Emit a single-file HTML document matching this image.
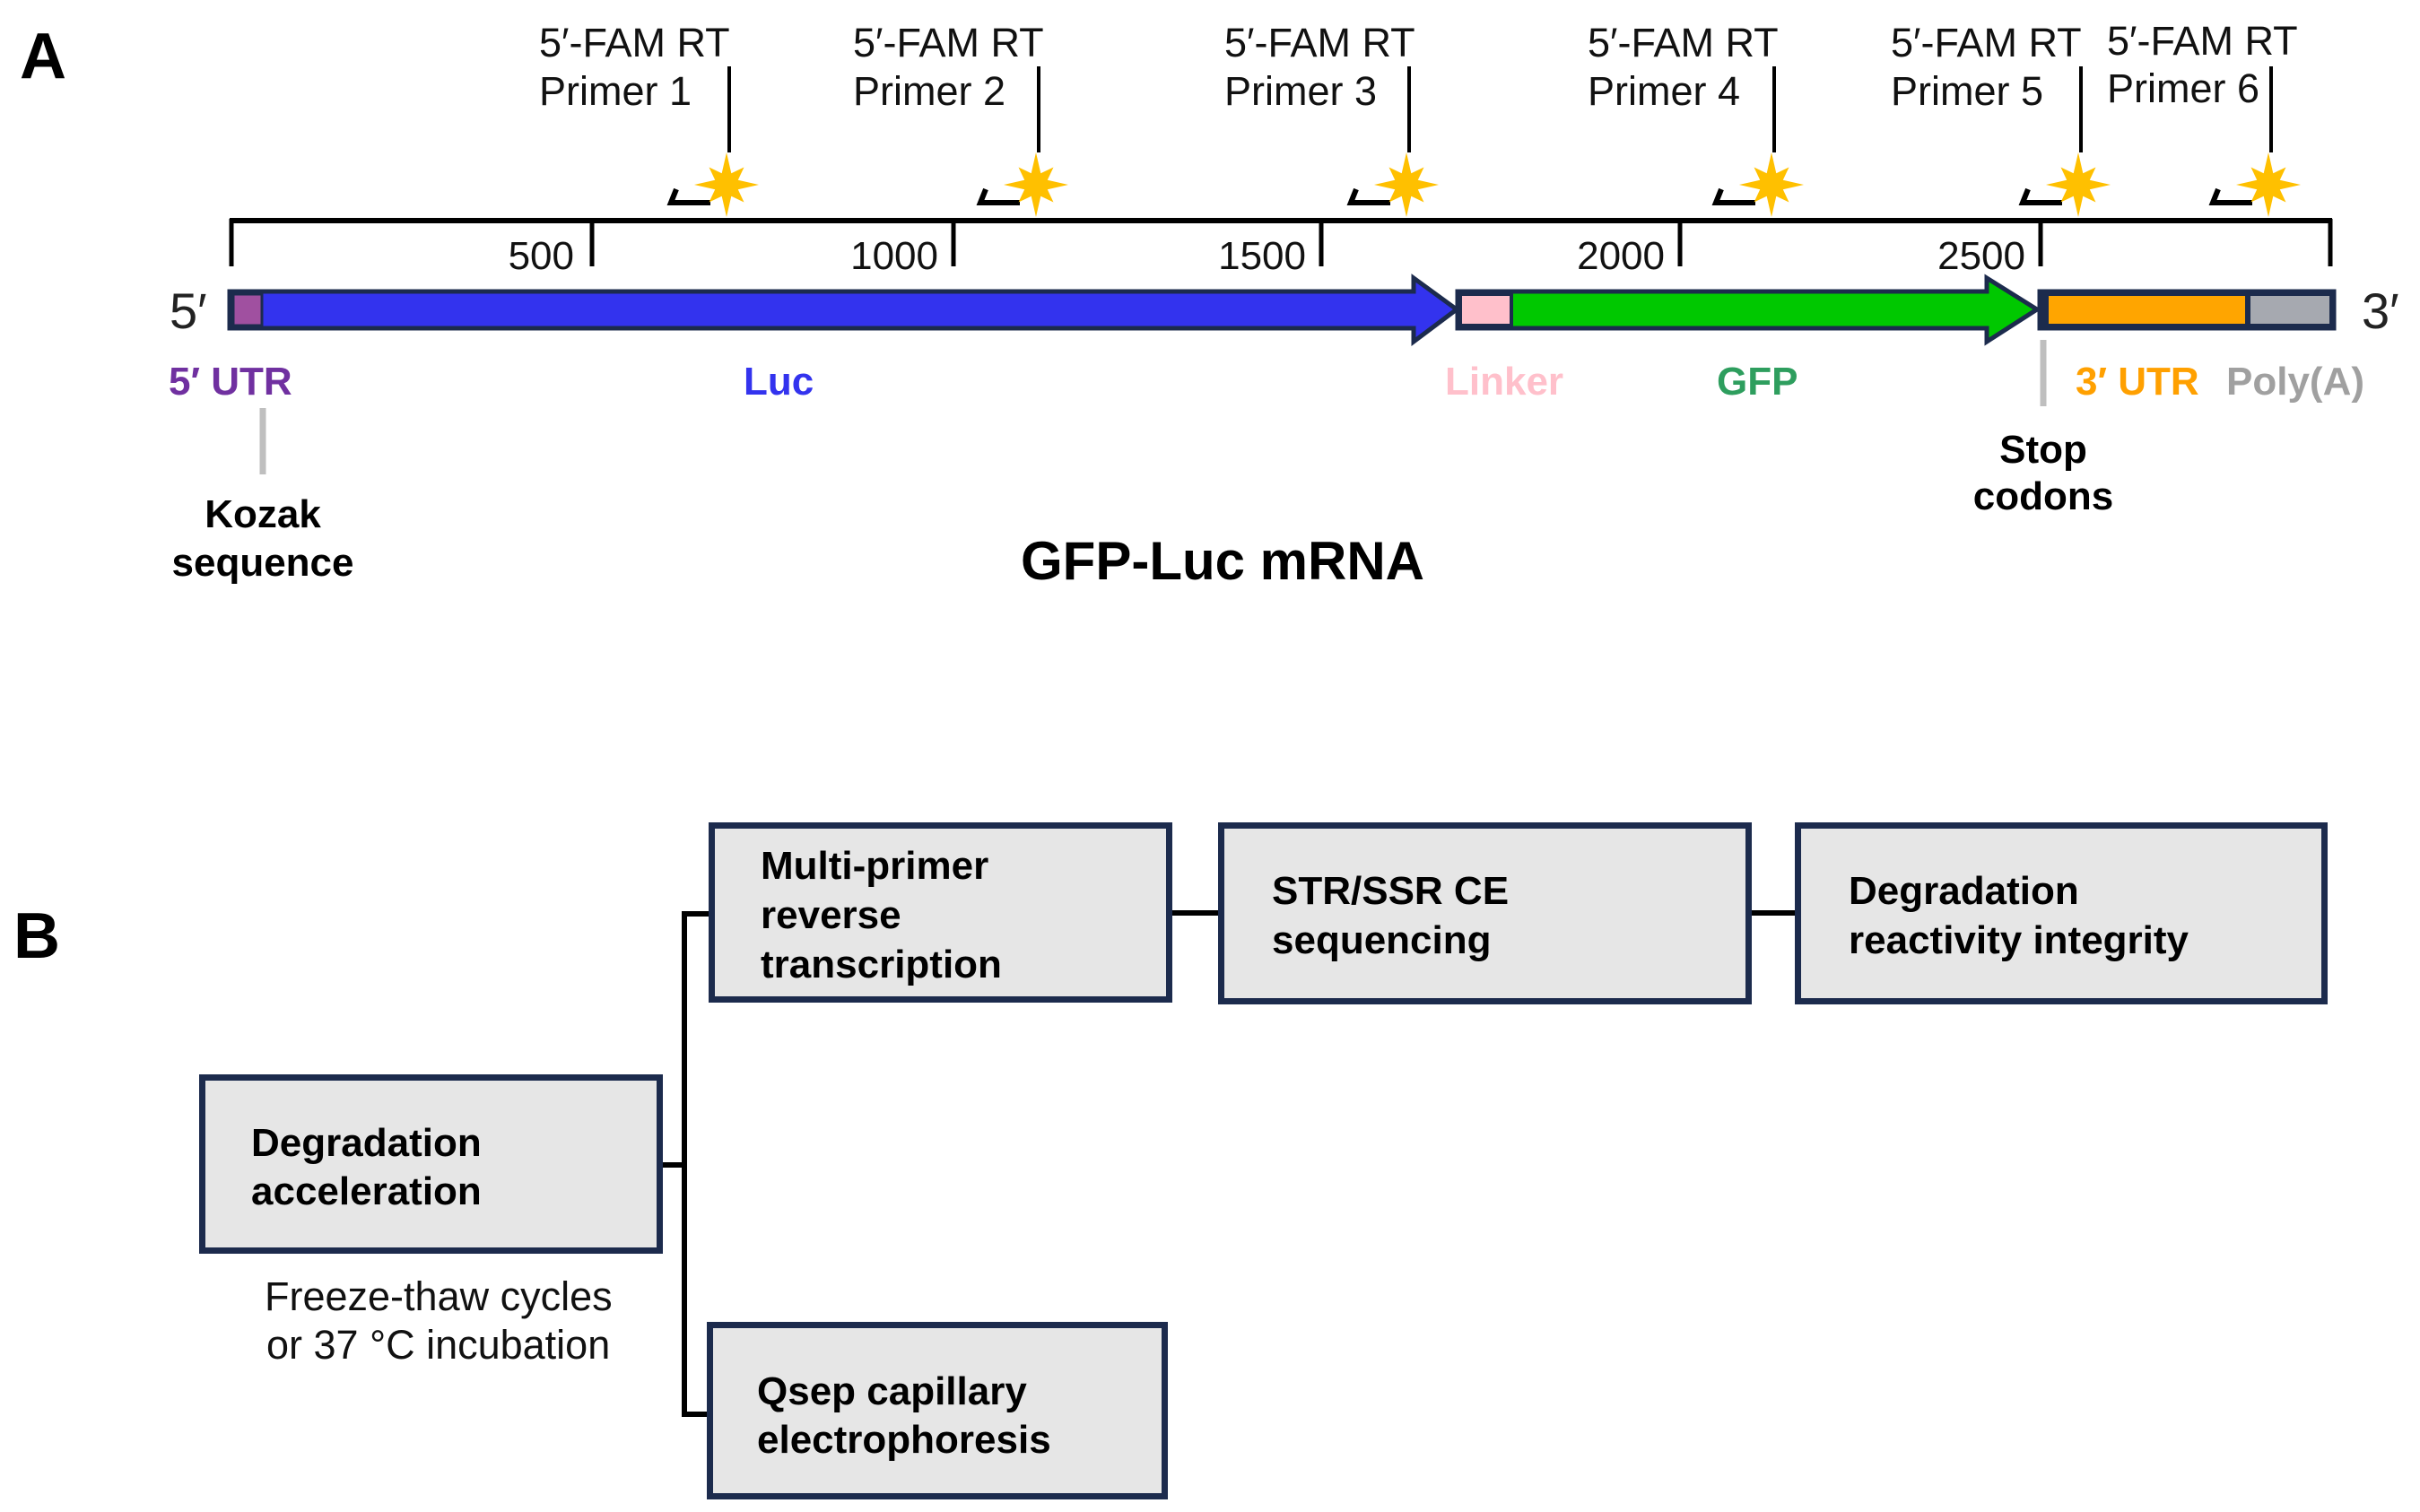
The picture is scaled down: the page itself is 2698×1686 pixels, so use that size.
<!DOCTYPE html>
<html><head><meta charset="utf-8"><style>
html,body{margin:0;padding:0;background:#fff;}
svg{display:block;}
text{font-family:"Liberation Sans",Arial,sans-serif;}
.b{font-weight:bold;}
</style></head><body>
<svg width="2698" height="1686" viewBox="0 0 2698 1686" xmlns="http://www.w3.org/2000/svg">
<defs>
<polygon id="st" fill="#ffc000" points="0,-36 5.3,-12.8 19.5,-19.5 12.8,-5.3 36,0 12.8,5.3 19.5,19.5 5.3,12.8 0,36 -5.3,12.8 -19.5,19.5 -12.8,5.3 -36,0 -12.8,-5.3 -19.5,-19.5 -5.3,-12.8"/>
</defs>
<text x="22" y="87" class="b" font-size="72">A</text>
<text x="15" y="1068" class="b" font-size="72">B</text>

<!-- primers -->
<g font-size="45" fill="#111">
<text x="601" y="63">5′-FAM RT</text><text x="601" y="117">Primer 1</text>
<text x="951" y="63">5′-FAM RT</text><text x="951" y="117">Primer 2</text>
<text x="1365" y="63">5′-FAM RT</text><text x="1365" y="117">Primer 3</text>
<text x="1770" y="63">5′-FAM RT</text><text x="1770" y="117">Primer 4</text>
<text x="2108" y="63">5′-FAM RT</text><text x="2108" y="117">Primer 5</text>
<text x="2349" y="61">5′-FAM RT</text><text x="2349" y="114">Primer 6</text>
</g>
<g stroke="#000" stroke-width="4">
<line x1="813" y1="74" x2="813" y2="170"/>
<line x1="1158" y1="74" x2="1158" y2="170"/>
<line x1="1571" y1="74" x2="1571" y2="170"/>
<line x1="1978" y1="74" x2="1978" y2="170"/>
<line x1="2320" y1="74" x2="2320" y2="170"/>
<line x1="2532" y1="74" x2="2532" y2="170"/>
</g>
<g fill="none" stroke="#000" stroke-width="6">
<polyline points="754,211 748,226 792,226"/>
<polyline points="1099,211 1093,226 1137,226"/>
<polyline points="1512,211 1506,226 1550,226"/>
<polyline points="1919,211 1913,226 1957,226"/>
<polyline points="2261,211 2255,226 2299,226"/>
<polyline points="2473,211 2467,226 2511,226"/>
</g>
<use href="#st" x="810" y="206"/>
<use href="#st" x="1155" y="206"/>
<use href="#st" x="1568" y="206"/>
<use href="#st" x="1975" y="206"/>
<use href="#st" x="2317" y="206"/>
<use href="#st" x="2529" y="206"/>

<!-- ruler -->
<g stroke="#000" stroke-width="5">
<line x1="256" y1="246" x2="2600" y2="246" stroke-width="6"/>
<line x1="258" y1="244" x2="258" y2="297"/>
<line x1="2598" y1="244" x2="2598" y2="297"/>
<line x1="660" y1="246" x2="660" y2="297"/>
<line x1="1063" y1="246" x2="1063" y2="297"/>
<line x1="1473" y1="246" x2="1473" y2="297"/>
<line x1="1873" y1="246" x2="1873" y2="297"/>
<line x1="2275" y1="246" x2="2275" y2="297"/>
</g>
<g font-size="44" fill="#111" text-anchor="end">
<text x="640" y="300">500</text>
<text x="1046" y="300">1000</text>
<text x="1456" y="300">1500</text>
<text x="1856" y="300">2000</text>
<text x="2258" y="300">2500</text>
</g>

<!-- bar -->
<text x="189" y="366" font-size="56" fill="#222">5′</text>
<text x="2633" y="366" font-size="56" fill="#222">3′</text>
<g stroke="#1c2b4d" stroke-width="5" stroke-linejoin="miter">
<polygon points="256,325 1576,325 1576,310 1624,345 1576,381 1576,366 256,366" fill="#3333ee"/>
<rect x="260" y="328" width="32" height="35" fill="#a050a0" stroke-width="3"/>
<polygon points="1625,325 2215,325 2215,310 2271,345 2215,381 2215,366 1625,366" fill="#00c800"/>
<rect x="1628" y="328" width="57" height="35" fill="#ffc0cb" stroke-width="4"/>
<rect x="2274" y="325" width="328" height="41" fill="#1c2b4d"/>
</g>
<rect x="2284" y="330" width="219" height="31" fill="#ffa500"/>
<rect x="2509" y="330" width="88" height="31" fill="#a6a9b0"/>

<!-- labels -->
<g font-size="44" font-weight="bold">
<text x="188" y="440" fill="#7030a0">5′ UTR</text>
<text x="829" y="440" fill="#3333ee">Luc</text>
<text x="1611" y="440" fill="#ffc0cb">Linker</text>
<text x="1914" y="440" fill="#2e9e5e">GFP</text>
<text x="2314" y="440" fill="#ffa000">3′ UTR</text>
<text x="2482" y="440" fill="#a0a0a0">Poly(A)</text>
</g>
<line x1="293" y1="455" x2="293" y2="529" stroke="#bfbfbf" stroke-width="7"/>
<line x1="2278" y1="379" x2="2278" y2="453" stroke="#bfbfbf" stroke-width="7"/>
<g font-size="44" font-weight="bold" text-anchor="middle" fill="#000">
<text x="293" y="588">Kozak</text>
<text x="293" y="642">sequence</text>
<text x="2278" y="516">Stop</text>
<text x="2278" y="568">codons</text>
</g>
<text x="1363" y="646" font-size="60" font-weight="bold" text-anchor="middle">GFP-Luc mRNA</text>

<!-- part B connectors -->
<g stroke="#000" stroke-width="6" fill="none">
<line x1="763" y1="1016" x2="763" y2="1580"/>
<line x1="739" y1="1299" x2="763" y2="1299"/>
<line x1="760" y1="1019" x2="790" y2="1019"/>
<line x1="760" y1="1577" x2="790" y2="1577"/>
<line x1="1307" y1="1018" x2="1358" y2="1018"/>
<line x1="1953" y1="1018" x2="2001" y2="1018"/>
</g>
<g fill="#e6e6e6" stroke="#1c2b4d" stroke-width="7">
<rect x="225.5" y="1201.5" width="510" height="193"/>
<rect x="793.5" y="920.5" width="510" height="194"/>
<rect x="791.5" y="1477.5" width="507" height="191"/>
<rect x="1361.5" y="920.5" width="588" height="196"/>
<rect x="2004.5" y="920.5" width="587" height="196"/>
</g>
<g font-size="44" font-weight="bold" fill="#000">
<text x="280" y="1289">Degradation</text>
<text x="280" y="1343">acceleration</text>
<text x="848" y="980">Multi-primer</text>
<text x="848" y="1035">reverse</text>
<text x="848" y="1090">transcription</text>
<text x="844" y="1566">Qsep capillary</text>
<text x="844" y="1620">electrophoresis</text>
<text x="1418" y="1008">STR/SSR CE</text>
<text x="1418" y="1063">sequencing</text>
<text x="2061" y="1008">Degradation</text>
<text x="2061" y="1063">reactivity integrity</text>
</g>
<g font-size="45" fill="#111">
<text x="295" y="1461">Freeze-thaw cycles</text>
<text x="297" y="1515">or 37 °C incubation</text>
</g>
</svg>
</body></html>
